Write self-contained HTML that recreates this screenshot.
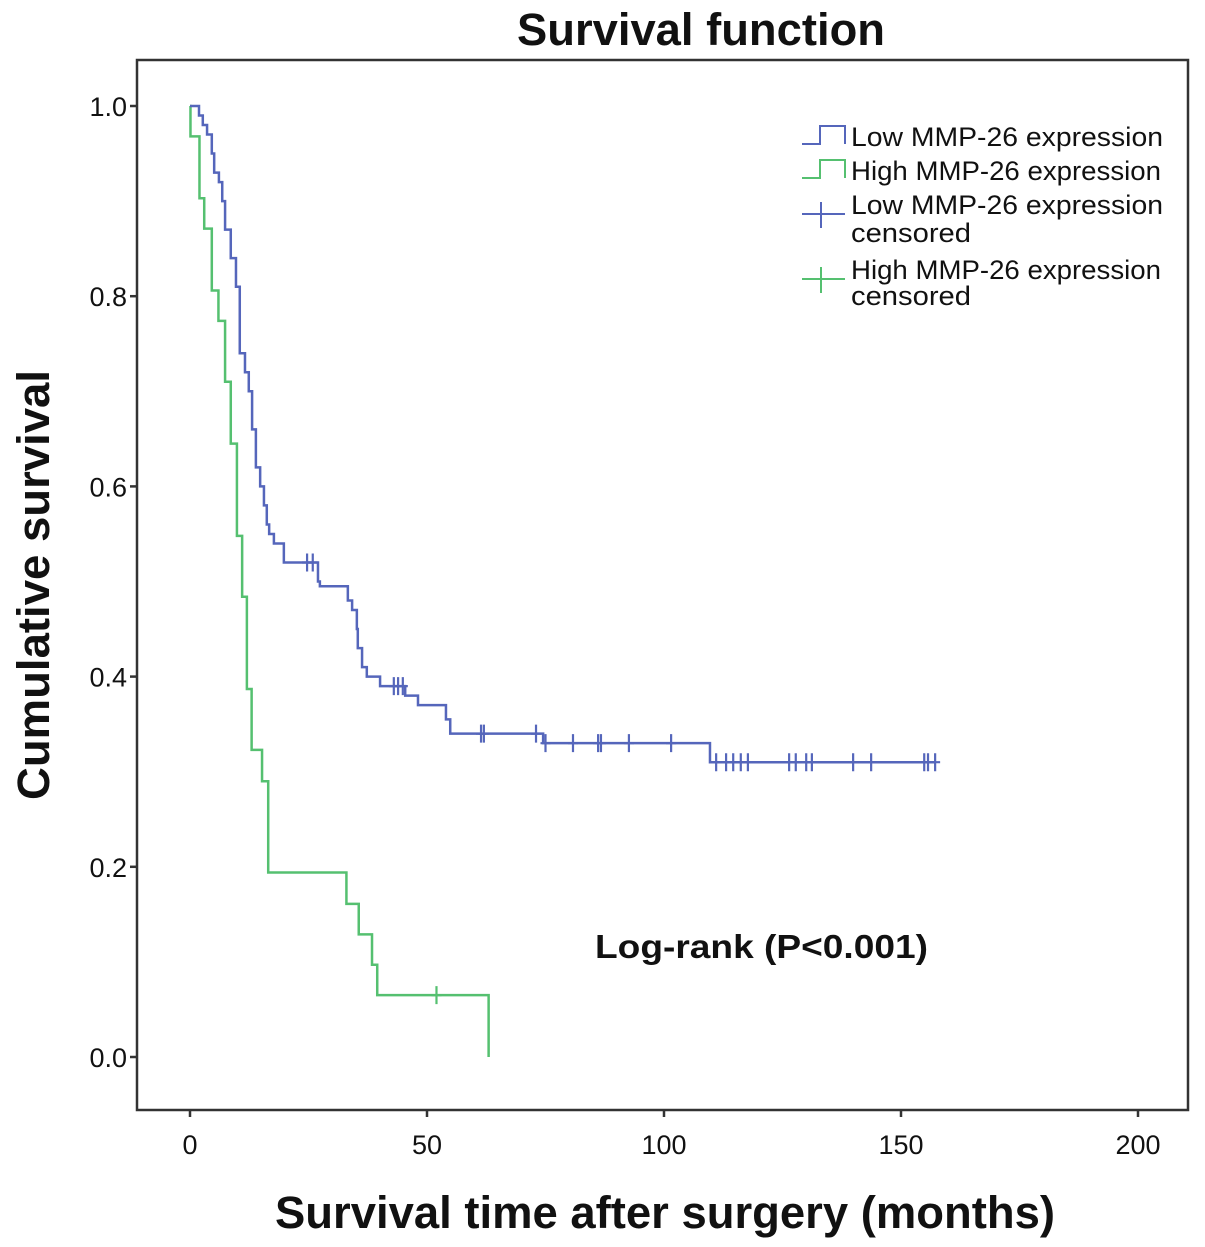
<!DOCTYPE html>
<html><head><meta charset="utf-8"><style>
html,body{margin:0;padding:0;background:#fff;}
svg{display:block;font-family:"Liberation Sans",Arial,sans-serif;}
</style></head><body>
<svg id="chart" width="1205" height="1247" viewBox="0 0 1205 1247" xmlns="http://www.w3.org/2000/svg">
<rect x="0" y="0" width="1205" height="1247" fill="#fff"/>
<text x="517" y="45" textLength="368" lengthAdjust="spacingAndGlyphs" font-size="45" font-weight="bold" fill="#111">Survival function</text>
<rect x="137" y="60" width="1051" height="1050" fill="none" stroke="#333" stroke-width="2.5"/>
<g id="axes"></g>
<g id="series"></g>
<text transform="translate(49,800) rotate(-90)" textLength="430" lengthAdjust="spacingAndGlyphs" font-size="45" font-weight="bold" fill="#111">Cumulative survival</text>
<text x="275" y="1228" textLength="780" lengthAdjust="spacingAndGlyphs" font-size="45" font-weight="bold" fill="#111">Survival time after surgery (months)</text>
<text x="595" y="958" textLength="333" lengthAdjust="spacingAndGlyphs" font-size="33" font-weight="bold" fill="#111">Log-rank (P&lt;0.001)</text>
<g font-size="27" fill="#111">
  <g>
    <path d="M802,144 H820 V126 H845 V144" fill="none" stroke="#5566bb" stroke-width="2"/>
    <text x="851" y="146" textLength="312" lengthAdjust="spacingAndGlyphs">Low MMP-26 expression</text>
  </g>
  <g>
    <path d="M802,178 H820 V160 H845 V178" fill="none" stroke="#55c070" stroke-width="2"/>
    <text x="851" y="180" textLength="310" lengthAdjust="spacingAndGlyphs">High MMP-26 expression</text>
  </g>
  <g>
    <path d="M802,214 H845 M821,202 V228" fill="none" stroke="#5566bb" stroke-width="2"/>
    <text x="851" y="214" textLength="312" lengthAdjust="spacingAndGlyphs">Low MMP-26 expression</text>
    <text x="851" y="242" textLength="120" lengthAdjust="spacingAndGlyphs">censored</text>
  </g>
  <g>
    <path d="M802,279 H845 M821,267 V293" fill="none" stroke="#55c070" stroke-width="2"/>
    <text x="851" y="279" textLength="310" lengthAdjust="spacingAndGlyphs">High MMP-26 expression</text>
    <text x="851" y="305" textLength="120" lengthAdjust="spacingAndGlyphs">censored</text>
  </g>
</g>
</svg>
<script>
const xTicks = [0, 50, 100, 150, 200];
const yTicks = [0.0, 0.2, 0.4, 0.6, 0.8, 1.0];
const yTickLabels = ["0.0", "0.2", "0.4", "0.6", "0.8", "1.0"];
// Low expression: event times (months) and survival after each event
const lowTimes = [1.9, 2.7, 3.6, 4.6, 5.1, 6.1, 6.8, 7.4, 8.6, 9.7, 10.5, 11.6, 12.4, 13.1, 13.9, 14.8, 15.6, 16.2, 16.7, 17.7, 19.8, 27, 27.4, 33.3, 34.2, 35.2, 35.4, 36.3, 37.3, 40.1, 45.4, 48.1, 54, 54.9, 74.5, 109.7];
const lowSurv = [0.99, 0.98, 0.97, 0.95, 0.93, 0.92, 0.90, 0.87, 0.84, 0.81, 0.74, 0.72, 0.70, 0.66, 0.62, 0.60, 0.58, 0.56, 0.55, 0.54, 0.52, 0.50, 0.495, 0.48, 0.47, 0.45, 0.43, 0.41, 0.40, 0.39, 0.38, 0.37, 0.355, 0.34, 0.33, 0.31];
const lowCensored = [24.7, 25.9, 43, 43.9, 44.9, 61.4, 62, 73, 75, 80.8, 86.1, 86.7, 92.6, 101.5, 111, 113.1, 114.6, 116.2, 117.7, 126.4, 127.8, 130, 131.2, 139.9, 143.7, 154.9, 155.7, 157.2];
const lowEnd = 157.2;
// High expression
const highTimes = [0.1, 2, 3, 4.6, 6, 7.4, 8.6, 9.9, 11, 12, 13, 15.2, 16.5, 33, 35.6, 38.4, 39.5, 63];
const highSurv = [0.968, 0.903, 0.871, 0.806, 0.774, 0.710, 0.645, 0.548, 0.484, 0.387, 0.323, 0.290, 0.194, 0.161, 0.129, 0.097, 0.065, 0.0];
const highCensored = [52];
const highEnd = 63;

const NS = "http://www.w3.org/2000/svg";
const X = t => 190 + t * 4.74;
const Y = s => 1057 - s * 951;
function mk(tag, attrs, parent) {
  const e = document.createElementNS(NS, tag);
  for (const k in attrs) e.setAttribute(k, attrs[k]);
  parent.appendChild(e);
  return e;
}
const axes = document.getElementById('axes');
const series = document.getElementById('series');
xTicks.forEach((t, i) => {
  const l = mk('line', {x1: X(t), x2: X(t), y1: 1110, y2: 1117, stroke: '#333', 'stroke-width': 2.5}, axes);
  
  
  const tx = mk('text', {x: X(t), y: 1154, 'text-anchor': 'middle', 'font-size': 27, fill: '#111'}, axes);
  tx.textContent = String(t);
  
  
});
yTicks.forEach((s, i) => {
  const l = mk('line', {x1: 130, x2: 137, y1: Y(s), y2: Y(s), stroke: '#333', 'stroke-width': 2.5}, axes);
  
  
  const tx = mk('text', {x: 127, y: Y(s) + 10, 'text-anchor': 'end', 'font-size': 27, fill: '#111'}, axes);
  tx.textContent = yTickLabels[i];
  
  
});
function survAt(times, surv, t) {
  let s = 1;
  for (let i = 0; i < times.length; i++) if (times[i] <= t) s = surv[i];
  return s;
}
function drawCurve(times, surv, cens, end, color, name) {
  let d = `M${X(0)},${Y(1)}`;
  times.forEach((t, i) => {
    d += ` H${X(t)} V${Y(surv[i])}`;
  });
  if (X(end) > X(times[times.length - 1])) d += ` H${X(end)}`;
  const p = mk('path', {d: d, fill: 'none', stroke: color, 'stroke-width': 2.5}, series);
  
  
  cens.forEach(t => {
    const s = survAt(times, surv, t);
    const c = mk('path', {d: `M${X(t) - 5},${Y(s)} H${X(t) + 5} M${X(t)},${Y(s) - 9} V${Y(s) + 9}`, stroke: color, 'stroke-width': 2.2, fill: 'none'}, series);
    
    
  });
}
drawCurve(highTimes, highSurv, highCensored, highEnd, '#55c070', 'high-expression');
drawCurve(lowTimes, lowSurv, lowCensored, lowEnd, '#5566bb', 'low-expression');
</script>
</body></html>
